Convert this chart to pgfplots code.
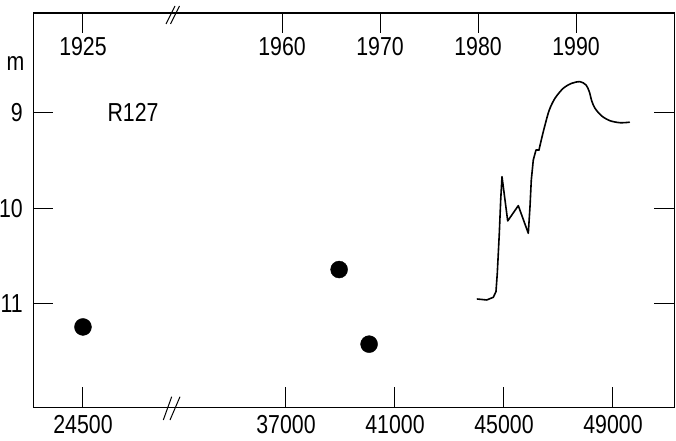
\documentclass[border=0pt]{standalone}
\usepackage{fontspec}
\setmainfont{Liberation Sans}[FakeStretch=0.82]
\usepackage{pgfplots}
\pgfplotsset{compat=1.18}

\begin{document}
\begin{tikzpicture}[x=1pt,y=1pt]
\pgfplotsset{
  common/.style={
    scale only axis, width=641pt, height=394pt,
    at={(33pt,33pt)}, anchor=south west,
    axis line style={line width=1pt},
    tick style={line width=1pt, black},
    major tick length=20pt,
    tick align=inside,
    /pgf/number format/assume math mode=true,
    every tick label/.append style={font=\fontsize{26}{30}\selectfont, inner sep=0pt},
  }
}
% bottom axis: days, with a break between 24500 and 37000
\begin{axis}[common,
  xmin=27716, xmax=51239,
  ymin=7.958, ymax=12.077, y dir=reverse,
  xtick={29550,37000,41000,45000,49000},
  xticklabels={24500,37000,41000,45000,49000},
  xtick pos=lower, xticklabel pos=lower,
  ytick={9,10,11},
  ytick pos=both, yticklabel pos=lower,
  xticklabel style={yshift=-8pt},
  yticklabel style={xshift=-10pt},
  x filter/.expression={x<30000 ? x+5050 : x},
]
\addplot[only marks, mark=*, mark size=8.5pt, black]
  coordinates {(24500,11.24) (38950,10.64) (40050,11.42)};
% lower, jagged part of the record
\addplot[line width=1.6pt, black, line join=round, line cap=round] coordinates {
  (44020,10.948) (44365,10.958) (44607,10.930) (44706,10.871)
  (44754,10.679) (44828,10.261) (44879,9.913) (44927,9.669)
  (45037,9.913) (45136,10.132) (45525,9.972) (45892,10.261)
  (45954,9.983) (46002,9.704) (46075,9.495) (46174,9.390)
  (46284,9.390)
};
% upper, smooth part
\addplot[line width=1.6pt, black, smooth, line cap=round] coordinates {
  (46284,9.390) (46383,9.268) (46505,9.129) (46662,8.972)
  (46872,8.849) (47176,8.745) (47484,8.693) (47789,8.676)
  (48009,8.710) (48130,8.780) (48218,8.875) (48339,8.954)
  (48585,9.034) (48890,9.084) (49257,9.105) (49598,9.100)
};
\end{axis}
% top axis: years
\begin{axis}[common,
  xmin=1934.59, xmax=2000, ymin=0, ymax=1, ytick=\empty,
  xtick={1939.69,1960,1970,1980,1990},
  xticklabels={1925,1960,1970,1980,1990},
  xtick pos=upper, xticklabel pos=upper,
  xticklabel style={anchor=north, yshift=-24pt},
]
\end{axis}
% axis breaks
\draw[line width=1pt] (166,416) -- (175,434) (170.5,416) -- (179.5,434);
\draw[line width=1pt] (163.3,20) -- (171.7,43.3) (170,20) -- (180,43.3);
\node[font=\fontsize{26}{30}\selectfont] at (133,327.5) {R127};
\node[font=\fontsize{26}{30}\selectfont, inner sep=0pt] at (15.5,376) {m};
\pgfresetboundingbox
\path[use as bounding box] (0,0) rectangle (676,440);
\end{tikzpicture}
\end{document}
